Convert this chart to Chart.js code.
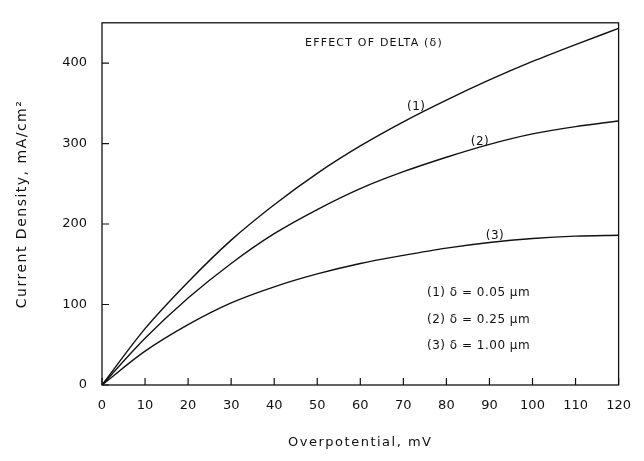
<!DOCTYPE html>
<html>
<head>
<meta charset="utf-8">
<script src="https://cdn.jsdelivr.net/npm/chart.js@4.4.1/dist/chart.umd.min.js"></script>
<style>
  html, body { margin: 0; padding: 0; background: #fff; }
  #wrap { width: 644px; height: 461px; }
</style>
</head>
<body>
<div id="wrap"><canvas id="chart" width="644" height="461"></canvas></div>
<script>
// Overpotential (mV) and current density (mA/cm2) for three film thicknesses
const overpotential = [0, 10, 20, 30, 40, 50, 60, 70, 80, 90, 100, 110, 120];
const delta005 = [0, 70, 128, 180, 224, 263, 297, 327, 354, 379, 402, 423, 443];
const delta025 = [0, 58, 108, 151, 188, 218, 244, 265, 283, 299, 312, 321, 328];
const delta100 = [0, 42, 75, 102, 122, 138, 151, 161, 170, 177, 182, 185, 186];

const xTickValues = [0, 10, 20, 30, 40, 50, 60, 70, 80, 90, 100, 110, 120];
const yTickValues = [0, 100, 200, 300, 400];

const curveNames = ['(1)', '(2)', '(3)'];
const curveNameAt = [[73, 346], [87.8, 302], [91.3, 185]];
const legendLines = ['(1) \u03b4 = 0.05 \u03bcm', '(2) \u03b4 = 0.25 \u03bcm', '(3) \u03b4 = 1.00 \u03bcm'];

const ink = '#111111';
const font = "'DejaVu Sans', sans-serif";

function toPoints(ys) {
    return overpotential.map((x, i) => ({ x: x, y: ys[i] }));
}

function lineSet(ys) {
    return {
        data: toPoints(ys),
        borderColor: ink,
        borderWidth: 1.4,
        pointRadius: 0,
        fill: false,
        cubicInterpolationMode: 'monotone'
    };
}

// Box around the plot plus short inward tick marks
const framePlugin = {
    id: 'frame',
    afterDraw(chart) {
        const { ctx, chartArea: a, scales } = chart;
        ctx.save();
        ctx.strokeStyle = ink;
        ctx.lineWidth = 1.3;
        ctx.strokeRect(a.left, a.top, a.right - a.left, a.bottom - a.top);
        ctx.lineWidth = 1.2;
        ctx.beginPath();
        xTickValues.forEach(v => {
            const px = scales.x.getPixelForValue(v);
            ctx.moveTo(px, a.bottom);
            ctx.lineTo(px, a.bottom - 7);
        });
        yTickValues.forEach(v => {
            const py = scales.y.getPixelForValue(v);
            ctx.moveTo(a.left, py);
            ctx.lineTo(a.left + 7, py);
        });
        ctx.stroke();
        ctx.restore();
    }
};

// Title, curve numbers, legend block and axis titles
const textPlugin = {
    id: 'texts',
    afterDraw(chart) {
        const { ctx, chartArea: a, scales } = chart;
        ctx.save();
        ctx.fillStyle = ink;

        ctx.font = '11px ' + font;
        ctx.letterSpacing = '1.2px';
        ctx.textAlign = 'left';
        ctx.textBaseline = 'middle';
        ctx.fillText('EFFECT OF DELTA (\u03b4)', 305, 43);

        ctx.letterSpacing = '0.5px';
        ctx.font = '12px ' + font;
        ctx.textAlign = 'center';
        ctx.textBaseline = 'bottom';
        curveNames.forEach((name, i) => {
            const [vx, vy] = curveNameAt[i];
            ctx.fillText(name, scales.x.getPixelForValue(vx), scales.y.getPixelForValue(vy) + 6);
        });

        ctx.font = '12px ' + font;
        ctx.textAlign = 'left';
        ctx.textBaseline = 'middle';
        legendLines.forEach((txt, i) => {
            ctx.fillText(txt, 427, 293 + i * 26.5);
        });

        ctx.font = '13px ' + font;
        ctx.letterSpacing = '1.5px';
        ctx.textAlign = 'center';
        ctx.textBaseline = 'middle';
        ctx.fillText('Overpotential, mV', (a.left + a.right) / 2, 443);

        ctx.translate(22, (a.top + a.bottom) / 2);
        ctx.rotate(-Math.PI / 2);
        ctx.font = '14px ' + font;
        ctx.fillText('Current Density, mA/cm\u00b2', 0, 0);
        ctx.restore();
    }
};

new Chart(document.getElementById('chart'), {
    type: 'line',
    data: {
        datasets: [lineSet(delta005), lineSet(delta025), lineSet(delta100)]
    },
    options: {
        responsive: false,
        animation: false,
        layout: { padding: { top: 14, right: 17, left: 0, bottom: 0 } },
        plugins: {
            legend: { display: false },
            tooltip: { enabled: false }
        },
        scales: {
            x: {
                type: 'linear',
                min: 0,
                max: 120,
                afterFit(scale) { scale.height = 76; },
                afterBuildTicks(scale) { scale.ticks = xTickValues.map(v => ({ value: v })); },
                grid: { display: false, drawTicks: false },
                border: { display: false },
                ticks: {
                    color: ink,
                    padding: 13,
                    maxRotation: 0,
                    autoSkip: false,
                    font: { family: font, size: 13 }
                }
            },
            y: {
                min: 0,
                max: 450,
                afterFit(scale) { scale.width = 102; },
                afterBuildTicks(scale) { scale.ticks = yTickValues.map(v => ({ value: v })); },
                grid: { display: false, drawTicks: false },
                border: { display: false },
                ticks: {
                    color: ink,
                    padding: 15,
                    font: { family: font, size: 13 }
                }
            }
        }
    },
    plugins: [framePlugin, textPlugin]
});
</script>
</body>
</html>
